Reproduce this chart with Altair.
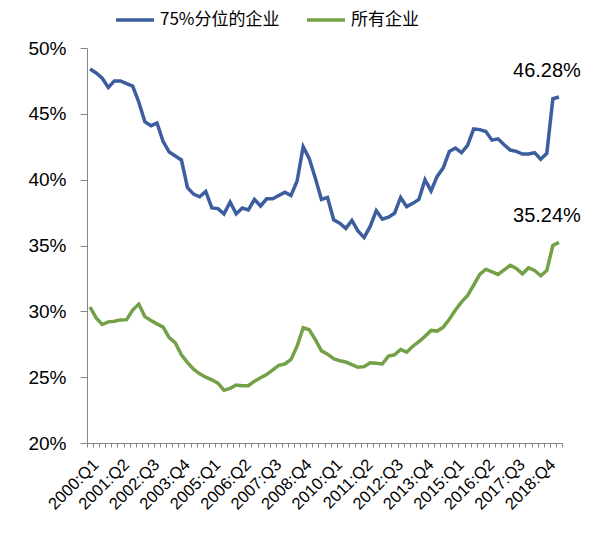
import altair as alt
import pandas as pd

categories = [f"{2000 + k // 4}:Q{k % 4 + 1}" for k in range(78)]

top75 = [48.4, 48.1, 47.7, 47.0, 47.5, 47.5, 47.3, 47.1, 45.9, 44.4,
         44.1, 44.3, 42.9, 42.1, 41.8, 41.5, 39.4, 38.9, 38.7, 39.1,
         37.85, 37.8, 37.4, 38.3, 37.4, 37.85, 37.7, 38.5, 38.0, 38.55,
         38.55, 38.8, 39.05, 38.8, 39.9, 42.5, 41.6, 40.1, 38.5, 38.65,
         36.95, 36.7, 36.3, 36.9, 36.1, 35.6, 36.45, 37.65, 37.0, 37.15,
         37.45, 38.65, 37.95, 38.2, 38.5, 40.0, 39.15, 40.25, 40.9, 42.15,
         42.4, 42.05, 42.6, 43.85, 43.8, 43.65, 43.0, 43.1, 42.65, 42.25,
         42.15, 41.95, 41.95, 42.05, 41.55, 42.0, 46.15, 46.28]

allfirms = [30.33, 29.5, 29.0, 29.2, 29.25, 29.35, 29.37, 30.1, 30.55, 29.6,
            29.3, 29.05, 28.8, 28.0, 27.6, 26.7, 26.1, 25.6, 25.25, 25.0,
            24.8, 24.55, 24.0, 24.15, 24.4, 24.35, 24.35, 24.7, 24.95, 25.2,
            25.55, 25.9, 26.0, 26.35, 27.35, 28.75, 28.6, 27.85, 27.0, 26.75,
            26.4, 26.25, 26.15, 25.95, 25.75, 25.8, 26.1, 26.05, 26.0, 26.6,
            26.7, 27.1, 26.9, 27.35, 27.7, 28.1, 28.55, 28.5, 28.8, 29.4,
            30.1, 30.7, 31.2, 32.0, 32.8, 33.2, 33.0, 32.8, 33.15, 33.5,
            33.25, 32.85, 33.3, 33.1, 32.7, 33.1, 35.0, 35.24]

series_names = ["75%分位的企业", "所有企业"]
colors = ["#3C5D9E", "#74A147"]
end_labels = ["46.28%", "35.24%"]

rows = []
for i, c in enumerate(categories):
    rows.append({"i": i, "cat": c, "series": series_names[0], "v": top75[i] / 100})
    rows.append({"i": i, "cat": c, "series": series_names[1], "v": allfirms[i] / 100})
df = pd.DataFrame(rows)

lab_df = pd.DataFrame({
    "i": [77, 77],
    "v": [top75[-1] / 100, allfirms[-1] / 100],
    "t": end_labels,
    "series": series_names,
})

# tick positions at category boundaries, labels every 5 categories
tick_vals = [k - 0.5 for k in range(79)]
lab_arr = [categories[k] if (k < 78 and k % 5 == 0) else "" for k in range(79)]
label_expr = "[" + ",".join("'" + s + "'" for s in lab_arr) + "][round(datum.value + 0.5)]"

FONT = "Liberation Sans"
CJK = "Noto Sans CJK SC"

x = alt.X("i:Q",
          scale=alt.Scale(domain=[-0.5, 77.5], nice=False, zero=False),
          axis=alt.Axis(values=tick_vals, tickCount=200, labelExpr=label_expr, title=None,
                        labelAngle=315, labelOverlap=False, labelOffset=3,
                        labelFontSize=16.5, labelFont=FONT, labelColor="#000000",
                        labelPadding=9, tickSize=4, tickColor="#868686",
                        domainColor="#868686", grid=False, labelFlush=False,
                        labelBound=False))
y = alt.Y("v:Q",
          scale=alt.Scale(domain=[0.2, 0.5], nice=False, zero=False),
          axis=alt.Axis(values=[0.2, 0.25, 0.3, 0.35, 0.4, 0.45, 0.5],
                        format=".0%", title=None, grid=False,
                        labelFontSize=19, labelFont=FONT, labelColor="#000000",
                        tickSize=7, labelPadding=14, tickColor="#868686",
                        domainColor="#868686"))

lines = alt.Chart(df).mark_line(strokeWidth=3.5).encode(
    x=x, y=y,
    color=alt.Color("series:N",
                    scale=alt.Scale(domain=series_names, range=colors),
                    sort=series_names,
                    legend=alt.Legend(title=None, orient="none", direction="horizontal",
                                      legendX=27, legendY=-49,
                                      symbolType="stroke", symbolSize=1444,
                                      symbolStrokeWidth=3.5, labelFontSize=17,
                                      labelFont=CJK, labelColor="#000000",
                                      columnPadding=20, labelOffset=4)),
    detail="series:N",
)

texts = alt.Chart(lab_df).mark_text(fontSize=20, font=FONT, color="#000000",
                                    dx=-12, dy=-26).encode(
    x=alt.X("i:Q"), y=alt.Y("v:Q"), text="t:N")

chart = alt.layer(lines, texts).properties(
    width=475, height=395,
    autosize=alt.AutoSizeParams(type="none"),
    padding={"left": 87, "top": 48, "right": 48, "bottom": 92},
    background="#ffffff",
).configure_view(stroke=None)

chart.save("out.html", embed_options={"renderer": "svg", "actions": False})
